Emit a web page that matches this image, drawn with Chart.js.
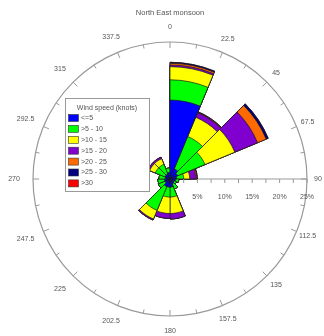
<!DOCTYPE html>
<html>
<head>
<meta charset="utf-8">
<script src="https://cdn.jsdelivr.net/npm/chart.js@4.4.1/dist/chart.umd.min.js"></script>
<style>
html,body{margin:0;padding:0;background:#fff;}
#wrap{width:324px;height:336px;position:relative;}
</style>
</head>
<body>
<div id="wrap"><canvas id="c"></canvas></div>
<script>
// ---- data ----
const chartTitle = 'North East monsoon';
const legendTitle = 'Wind speed (knots)';
const directions = ['0','22.5','45','67.5','90','112.5','135','157.5','180','202.5','225','247.5','270','292.5','315','337.5'];
const speedBins = ['<=5','>5 - 10','>10 - 15','>15 - 20','>20 - 25','>25 - 30','>30'];
const radialTicks = [5, 10, 15, 20, 25];
// percent of time per direction sector, per speed bin
const speed0to5   = [14.4, 2.0, 1.5, 1.2, 1.0, 0.8, 1.0, 1.5, 1.5, 1.5, 1.0, 1.0, 0.8, 1.0, 1.0, 1.2];
const speed5to10  = [3.7, 6.4, 5.4, 1.3, 0.6, 0.5, 1.0, 1.8, 1.8, 4.7, 1.3, 1.2, 1.2, 1.9, 1.9, 0.8];
const speed10to15 = [2.4, 3.8, 5.9, 1.1, 0, 0, 0, 3.0, 3.0, 1.7, 0, 0, 0, 1.1, 1.1, 0];
const speed15to20 = [0.3, 0.9, 4.5, 1.1, 0, 0, 0, 1.0, 0.9, 0.2, 0, 0, 0, 0.3, 0.3, 0];
const speed20to25 = [0.3, 0.1, 1.7, 0.2, 0, 0, 0, 0, 0, 0, 0, 0, 0, 0, 0, 0];
const speed25to30 = [0.2, 0.1, 0.4, 0.1, 0, 0, 0, 0, 0, 0, 0, 0, 0, 0, 0, 0];
const speedOver30 = [0, 0, 0, 0, 0, 0, 0, 0, 0, 0, 0, 0, 0, 0, 0, 0];

const binColors = ['#0000ff','#00ff00','#ffff00','#8000d0','#ff6a00','#000080','#ff0000'];
const FONT = '"Liberation Sans", Arial, sans-serif';
const TEXT = '#555';

// build cumulative (stacked) rings for the polar area
const series = [speed0to5, speed5to10, speed10to15, speed15to20, speed20to25, speed25to30, speedOver30];
let cum = directions.map(() => 0);
const datasets = series.map((arr, k) => {
  cum = cum.map((c, i) => c + arr[i]);
  return {
    label: speedBins[k],
    data: cum.map(v => +v.toFixed(3)),
    backgroundColor: binColors[k],
    borderColor: '#1a1a1a',
    borderWidth: 0.7
  };
});

const decor = {
  id: 'decor',
  afterDraw(chart) {
    const s = chart.scales.r;
    const ctx = chart.ctx;
    const cx = s.xCenter, cy = s.yCenter, R = s.drawingArea;
    ctx.save();
    // ticks on outer circle
    ctx.strokeStyle = '#999';
    ctx.lineWidth = 1;
    const a0 = s.getIndexAngle(0) - Math.PI / 2;
    for (let k = 0; k < 32; k++) {
      const a = a0 + k * Math.PI / 16;
      const len = (k % 2 === 0) ? 6 : 4;
      ctx.beginPath();
      ctx.moveTo(cx + Math.cos(a) * R, cy + Math.sin(a) * R);
      ctx.lineTo(cx + Math.cos(a) * (R - len), cy + Math.sin(a) * (R - len));
      ctx.stroke();
    }
    // direction labels
    ctx.fillStyle = TEXT;
    ctx.font = '7px ' + FONT;
    ctx.textAlign = 'center';
    ctx.textBaseline = 'middle';
    directions.forEach((lab, i) => {
      const a = s.getIndexAngle(i) - Math.PI / 2;
      const ux = Math.cos(a), uy = Math.sin(a);
      const r = R + 13 + 2 * Math.abs(uy) + (ux < 0 ? 6 * -ux : -2 * ux);
      ctx.fillText(lab, cx + ux * r, cy + uy * r);
    });
    // radial axis ticks along 90 deg
    ctx.strokeStyle = '#999';
    for (let v = 2.5; v <= 25.001; v += 2.5) {
      const x = cx + s.getDistanceFromCenterForValue(v);
      ctx.beginPath();
      ctx.moveTo(x, cy);
      ctx.lineTo(x, cy + 4);
      ctx.stroke();
    }
    radialTicks.forEach(v => {
      const x = cx + s.getDistanceFromCenterForValue(v);
      ctx.fillText(v + '%', x, cy + 18);
    });
    // legend
    const lx = 65, ly = 98, lw = 84, lh = 93;
    ctx.fillStyle = '#fff';
    ctx.fillRect(lx, ly, lw, lh);
    ctx.strokeStyle = '#999';
    ctx.lineWidth = 1;
    ctx.strokeRect(lx + 0.5, ly + 0.5, lw, lh);
    ctx.fillStyle = TEXT;
    ctx.textAlign = 'center';
    ctx.fillText(legendTitle, lx + lw / 2, ly + 10);
    ctx.textAlign = 'left';
    speedBins.forEach((lab, i) => {
      const y = ly + 20 + i * 10.9;
      ctx.fillStyle = binColors[i];
      ctx.fillRect(lx + 3.5, y - 3.5, 10, 7);
      ctx.strokeStyle = '#333';
      ctx.lineWidth = 0.6;
      ctx.strokeRect(lx + 3.5, y - 3.5, 10, 7);
      ctx.fillStyle = TEXT;
      ctx.fillText(lab, lx + 16, y);
    });
    ctx.restore();
  }
};

new Chart(document.getElementById('c'), {
  type: 'polarArea',
  data: { labels: directions, datasets },
  options: {
    responsive: true,
    maintainAspectRatio: false,
    animation: false,
    events: [],
    layout: { padding: { left: 16, right: 0, top: 0, bottom: 20 } },
    plugins: {
      legend: { display: false },
      tooltip: { enabled: false },
      title: {
        display: true,
        text: chartTitle,
        color: TEXT,
        font: { family: FONT, size: 7.5, weight: 'normal' },
        padding: { top: 8.5, bottom: 24.5 }
      }
    },
    scales: {
      r: {
        min: 0,
        max: 25,
        startAngle: 0,
        ticks: { display: false, stepSize: 5 },
        pointLabels: { display: false },
        grid: {
          circular: true,
          color: c => (c.tick && c.tick.value === 25) ? '#999' : 'rgba(0,0,0,0)',
          lineWidth: c => (c.tick && c.tick.value === 25) ? 1.2 : 0
        },
        angleLines: {
          display: true,
          color: c => c.index === 4 ? '#999' : 'rgba(0,0,0,0)',
          lineWidth: c => c.index === 4 ? 1 : 0
        }
      }
    }
  },
  plugins: [decor]
});
</script>
</body>
</html>
